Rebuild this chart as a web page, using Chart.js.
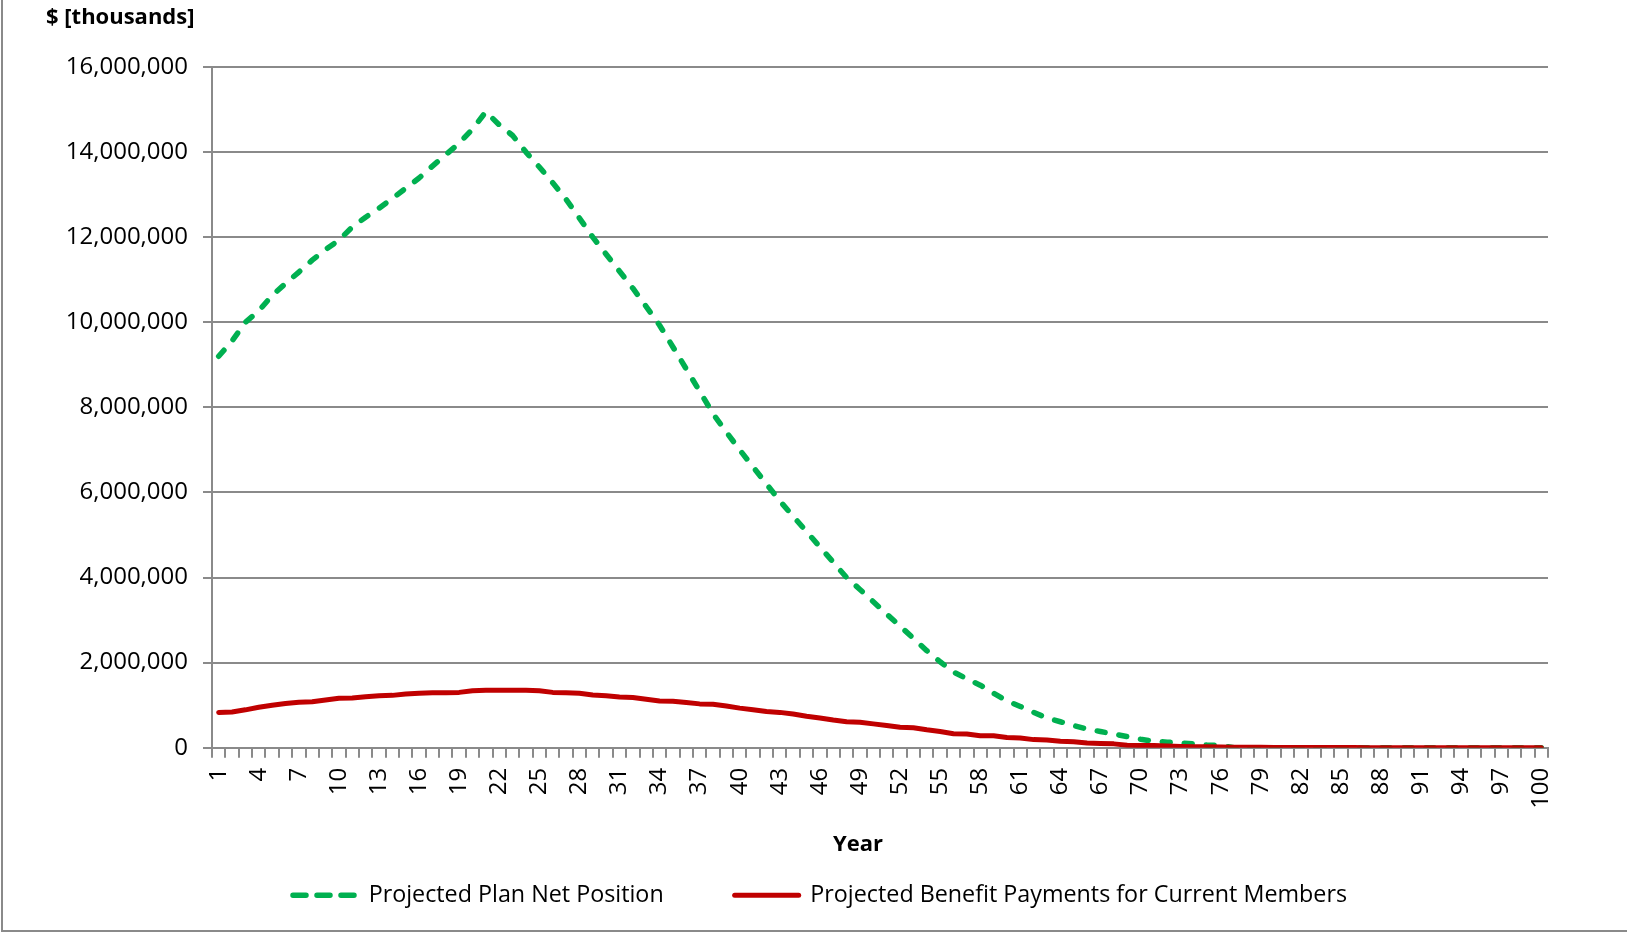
<!DOCTYPE html>
<html>
<head>
<meta charset="utf-8">
<script src="https://cdn.jsdelivr.net/npm/chart.js@4/dist/chart.umd.min.js"></script>
<style>
  html, body { margin: 0; padding: 0; background: #ffffff; }
  canvas { display: block; }
</style>
</head>
<body>
<canvas id="projection" width="1627" height="934"></canvas>
<script>
// Projection years 1..100
const years = Array.from({ length: 100 }, (_, i) => String(i + 1));

// Projected plan net position, $ thousands
const netPosition = [
  9200000, 9560000, 10000000, 10270000, 10630000, 10910000, 11180000, 11460000, 11710000, 11930000,
  12240000, 12470000, 12680000, 12910000, 13150000, 13390000, 13670000, 13940000, 14210000, 14540000,
  14950000, 14640000, 14390000, 14000000, 13650000, 13280000, 12890000, 12450000, 12000000, 11600000,
  11200000, 10800000, 10370000, 9930000, 9420000, 8900000, 8380000, 7850000, 7420000, 7000000,
  6600000, 6200000, 5800000, 5440000, 5080000, 4720000, 4360000, 4000000, 3720000, 3430000,
  3140000, 2860000, 2570000, 2280000, 2020000, 1780000, 1620000, 1470000, 1280000, 1100000,
  970000, 830000, 700000, 610000, 520000, 440000, 380000, 320000, 260000, 200000,
  150000, 130000, 110000, 90000, 60000, 50000, 0, 0, 0, 0,
  0, 0, 0, 0, 0, 0, 0, 0, 0, 0,
  0, 0, 0, 0, 0, 0, 0, 0, 0, 0
];

// Projected benefit payments for current members, $ thousands
const benefitPayments = [
  830000, 840000, 890000, 950000, 1000000, 1040000, 1070000, 1080000, 1120000, 1160000,
  1170000, 1200000, 1220000, 1230000, 1260000, 1280000, 1290000, 1290000, 1300000, 1340000,
  1350000, 1350000, 1350000, 1350000, 1340000, 1300000, 1290000, 1280000, 1240000, 1220000,
  1190000, 1180000, 1140000, 1100000, 1090000, 1060000, 1030000, 1020000, 980000, 930000,
  890000, 850000, 830000, 790000, 740000, 700000, 650000, 610000, 600000, 560000,
  520000, 480000, 470000, 420000, 380000, 330000, 320000, 280000, 280000, 240000,
  230000, 190000, 180000, 150000, 140000, 110000, 100000, 90000, 60000, 50000,
  50000, 40000, 30000, 20000, 20000, 15000, 10000, 10000, 8000, 6000,
  5000, 4000, 3000, 3000, 2000, 2000, 1000, 1000, 1000, 1000,
  0, 0, 0, 0, 0, 0, 0, 0, 0, 0
];

// Value axis ticks
const yMin = 0;
const yMax = 16000000;
const yStep = 2000000;

// Labels shown on every third year
const labelEvery = 3;

const axisGray = '#8a8a8a';
const baseFont = '"Open Sans", "Noto Sans", sans-serif';

// Frame, unit caption and the horizontal axis caption
const captions = {
  id: 'captions',
  afterDraw(chart) {
    const ctx = chart.ctx;
    ctx.save();
    ctx.strokeStyle = axisGray;
    ctx.lineWidth = 2;
    ctx.beginPath();
    ctx.moveTo(2, 0);
    ctx.lineTo(2, 931);
    ctx.lineTo(1627, 931);
    ctx.stroke();

    ctx.fillStyle = '#000000';
    ctx.font = 'bold 22px ' + baseFont;
    ctx.textBaseline = 'middle';
    ctx.textAlign = 'left';
    ctx.fillText('$ [thousands]', 46, 18);
    ctx.textAlign = 'center';
    ctx.fillText('Year', 858, 845);
    ctx.restore();
  }
};

// Legend samples keep each series' own stroke (dashes, caps, width)
const legendDash = { 0: [13, 11] };
function legendItems(chart) {
  const items = Chart.defaults.plugins.legend.labels.generateLabels(chart);
  items.forEach((item) => {
    const ds = chart.data.datasets[item.datasetIndex];
    item.pointStyle = 'line';
    item.lineWidth = ds.borderWidth;
    item.strokeStyle = ds.borderColor;
    item.lineCap = 'round';
    item.lineDash = legendDash[item.datasetIndex] || [];
  });
  return items.sort((a, b) => a.datasetIndex - b.datasetIndex);
}

new Chart(document.getElementById('projection'), {
  type: 'line',
  data: {
    labels: years,
    datasets: [
      {
        label: 'Projected Plan Net Position',
        data: netPosition,
        borderColor: '#00b050',
        backgroundColor: '#00b050',
        borderWidth: 5.5,
        borderDash: [8, 14],
        borderCapStyle: 'round',
        borderJoinStyle: 'round',
        pointRadius: 0,
        tension: 0,
        order: 2
      },
      {
        label: 'Projected Benefit Payments for Current Members',
        data: benefitPayments,
        borderColor: '#c00000',
        backgroundColor: '#c00000',
        borderWidth: 5,
        borderCapStyle: 'round',
        borderJoinStyle: 'round',
        pointRadius: 0,
        tension: 0,
        order: 1
      }
    ]
  },
  options: {
    responsive: false,
    animation: false,
    events: [],
    layout: { padding: { top: 67, right: 47, bottom: 17, left: 60 } },
    plugins: {
      tooltip: { enabled: false },
      legend: {
        position: 'bottom',
        labels: {
          usePointStyle: true,
          pointStyle: 'line',
          pointStyleWidth: 64,
          padding: 71,
          color: '#000000',
          font: { family: baseFont, size: 23.3 },
          generateLabels: legendItems
        }
      }
    },
    scales: {
      x: {
        offset: true,
        afterFit(scale) { scale.height = 65; },
        grid: {
          offset: true,
          drawOnChartArea: false,
          drawTicks: true,
          tickLength: 10,
          color: axisGray,
          lineWidth: 2
        },
        border: { display: true, color: axisGray, width: 2 },
        ticks: {
          autoSkip: false,
          minRotation: 90,
          maxRotation: 90,
          padding: 10,
          color: '#000000',
          font: { family: baseFont, size: 24 },
          callback(value, index) {
            return index % labelEvery === 0 ? years[index] : '';
          }
        }
      },
      y: {
        min: yMin,
        max: yMax,
        afterFit(scale) { scale.width = 152; },
        grid: {
          color: axisGray,
          lineWidth: 2,
          drawTicks: true,
          tickLength: 9
        },
        border: { display: true, color: axisGray, width: 2 },
        ticks: {
          stepSize: yStep,
          padding: 15,
          color: '#000000',
          font: { family: baseFont, size: 24 },
          callback: (v) => Number(v).toLocaleString('en-US')
        }
      },
      // empty right-hand margin box, keeps the plot's right edge in place
      margin: {
        type: 'linear',
        position: 'right',
        afterFit(scale) { scale.width = 32; },
        grid: { display: false },
        border: { display: false },
        ticks: { display: false }
      }
    }
  },
  plugins: [captions]
});
</script>
</body>
</html>
